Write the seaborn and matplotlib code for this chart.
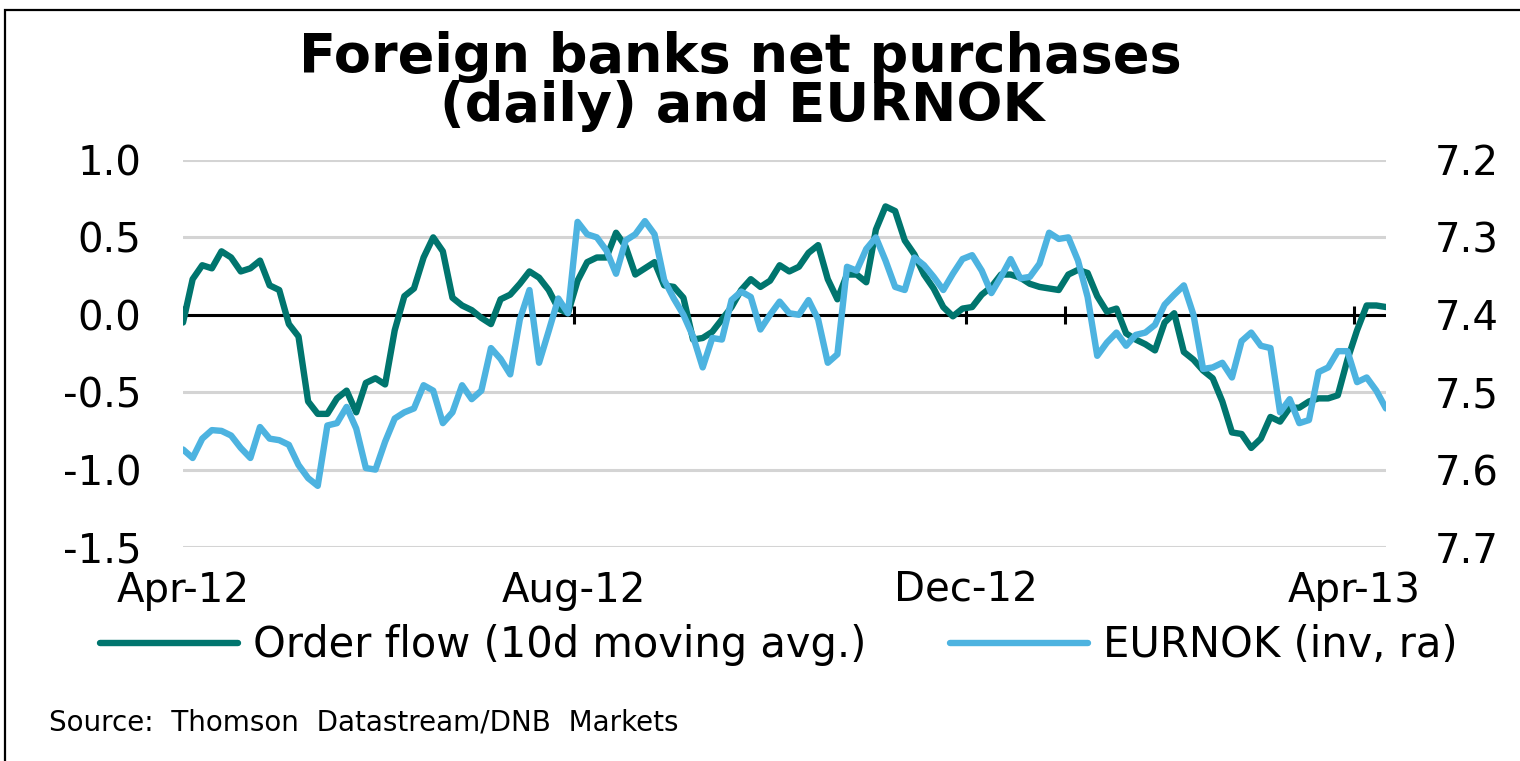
import pandas as pd
import matplotlib
matplotlib.use('Agg')
import matplotlib.pyplot as plt
from matplotlib.patches import Rectangle
import seaborn as sns

sns.set_style('white')
plt.rcParams['font.family'] = ['DejaVu Sans']
plt.rcParams['text.color'] = 'black'
plt.rcParams['xtick.color'] = 'black'
plt.rcParams['ytick.color'] = 'black'

TEAL = '#00756E'
BLUE = '#4DB3E0'

# one reading every 3 calendar days
dates = pd.date_range('2012-04-01', periods=126, freq='3D')

# order flow, 10d moving avg (left axis)
flow = [
    -0.05, 0.23, 0.32, 0.30, 0.41, 0.37, 0.28, 0.30, 0.35, 0.19, 0.16, -0.06, -0.14,
    -0.56, -0.64, -0.64, -0.54, -0.49, -0.63, -0.44, -0.41, -0.45, -0.10, 0.12, 0.17,
    0.37, 0.50, 0.41, 0.11, 0.06, 0.03,
    -0.02, -0.06, 0.10, 0.13, 0.20, 0.28, 0.24, 0.16, 0.04, 0.01, 0.22, 0.34, 0.37,
    0.37, 0.53, 0.44, 0.26, 0.30, 0.34, 0.19, 0.18, 0.11, -0.16, -0.15, -0.11, -0.03,
    0.05, 0.16, 0.23, 0.18, 0.22,
    0.32, 0.28, 0.31, 0.40, 0.45, 0.23, 0.10, 0.26, 0.26, 0.21, 0.55, 0.70, 0.67,
    0.48, 0.39, 0.26, 0.17, 0.05, -0.01, 0.04, 0.05, 0.13, 0.18, 0.26, 0.26, 0.24,
    0.20, 0.18, 0.17, 0.16, 0.26,
    0.29, 0.27, 0.12, 0.02, 0.04, -0.12, -0.16, -0.19, -0.23, -0.05, 0.01, -0.24,
    -0.29, -0.36, -0.41, -0.56, -0.76, -0.77, -0.86, -0.80, -0.66, -0.69, -0.60,
    -0.60, -0.56, -0.54, -0.54, -0.52, -0.29, -0.10, 0.06, 0.06, 0.05,
]

# EURNOK (right axis, inverted)
eurnok = [
    7.574, 7.585, 7.560, 7.549, 7.550, 7.556, 7.572, 7.585, 7.545, 7.560, 7.562,
    7.568, 7.594, 7.611, 7.621, 7.543, 7.540, 7.519, 7.547, 7.598, 7.600, 7.564,
    7.534, 7.526, 7.521, 7.491, 7.498, 7.540, 7.526, 7.491, 7.509,
    7.498, 7.443, 7.457, 7.477, 7.406, 7.368, 7.462, 7.421, 7.379, 7.398, 7.280,
    7.296, 7.300, 7.317, 7.347, 7.304, 7.296, 7.279, 7.296, 7.355, 7.379, 7.400,
    7.428, 7.468, 7.430, 7.432, 7.381, 7.370, 7.377, 7.419, 7.400,
    7.383, 7.398, 7.400, 7.381, 7.406, 7.462, 7.451, 7.338, 7.343, 7.315, 7.300,
    7.330, 7.364, 7.368, 7.326, 7.336, 7.351, 7.368, 7.347, 7.328, 7.323, 7.343,
    7.372, 7.351, 7.328, 7.353, 7.351, 7.334, 7.294, 7.302, 7.300,
    7.330, 7.377, 7.453, 7.436, 7.423, 7.440, 7.426, 7.423, 7.413, 7.387, 7.374,
    7.362, 7.400, 7.470, 7.468, 7.462, 7.481, 7.434, 7.423, 7.440, 7.443, 7.526,
    7.509, 7.540, 7.536, 7.474, 7.468, 7.447, 7.447, 7.487, 7.481, 7.498, 7.521,
]

left_ticks = [-1.5, -1.0, -0.5, 0.0, 0.5, 1.0]
left_labels = ['-1.5', '-1.0', '-0.5', '0.0', '0.5', '1.0']
right_ticks = [7.2, 7.3, 7.4, 7.5, 7.6, 7.7]
right_labels = ['7.2', '7.3', '7.4', '7.5', '7.6', '7.7']
month_ticks = pd.to_datetime(['2012-04-01', '2012-08-01', '2012-12-01', '2013-04-01'])
month_labels = ['Apr-12', 'Aug-12', 'Dec-12', 'Apr-13']
zero_marks = pd.to_datetime(['2012-04-01', '2012-08-01', '2012-12-01', '2013-01-01', '2013-04-01'])

fig = plt.figure(figsize=(15.2, 7.61), dpi=100)
ax = fig.add_axes([0.1204, 0.2812, 0.7914, 0.5086])
ax2 = ax.twinx()

sns.lineplot(x=dates, y=flow, ax=ax, color=TEAL, lw=4.6, legend=False)
sns.lineplot(x=dates, y=eurnok, ax=ax2, color=BLUE, lw=4.6, legend=False)
h_flow = ax.lines[0]
h_nok = ax2.lines[0]

ax.set_ylim(-1.5, 1.0)
ax.set_yticks(left_ticks)
ax.set_yticklabels(left_labels)
ax2.set_ylim(7.7, 7.2)
ax2.set_yticks(right_ticks)
ax2.set_yticklabels(right_labels)

ax.set_xlim(dates[0], dates[-1])
ax.set_xticks(month_ticks)
ax.set_xticklabels(month_labels)
ax.set_xlabel('')
ax.set_ylabel('')
ax2.set_ylabel('')

ax.yaxis.grid(True, color='#D4D4D4', lw=2.2)
ax.xaxis.grid(False)
ax.set_axisbelow(True)
ax.axhline(0, color='black', lw=2.2, zorder=1.5)
ax.plot(zero_marks, [0] * len(zero_marks), ls='none', marker='|', ms=13, mew=2.2,
        color='black', zorder=1.6)

for a in (ax, ax2):
    for s in a.spines.values():
        s.set_visible(False)
ax.tick_params(axis='y', length=0, pad=30, labelsize=29)
ax.tick_params(axis='x', length=0, pad=17, labelsize=29)
ax2.tick_params(axis='y', length=0, pad=35, labelsize=29)

fig.text(0.487, 0.9054, 'Foreign banks net purchases', ha='center', va='baseline',
         fontsize=39, fontweight='bold')
fig.text(0.488, 0.841, '(daily) and EURNOK', ha='center', va='baseline',
         fontsize=39, fontweight='bold')

fig.legend([h_flow, h_nok], ['Order flow (10d moving avg.)', 'EURNOK (inv, ra)'],
           loc='center', bbox_to_anchor=(0.5125, 0.152), ncol=2, frameon=False,
           fontsize=30, handlelength=3.3, handletextpad=0.37, columnspacing=2.0)

fig.text(0.032, 0.051, 'Source:  Thomson  Datastream/DNB  Markets', fontsize=20,
         va='center', ha='left')

fig.add_artist(Rectangle((0.0033, -0.1), 1.2, 0.987 + 0.1, transform=fig.transFigure,
                         fill=False, ec='black', lw=1.6))

fig.savefig('out.png', dpi=100)
